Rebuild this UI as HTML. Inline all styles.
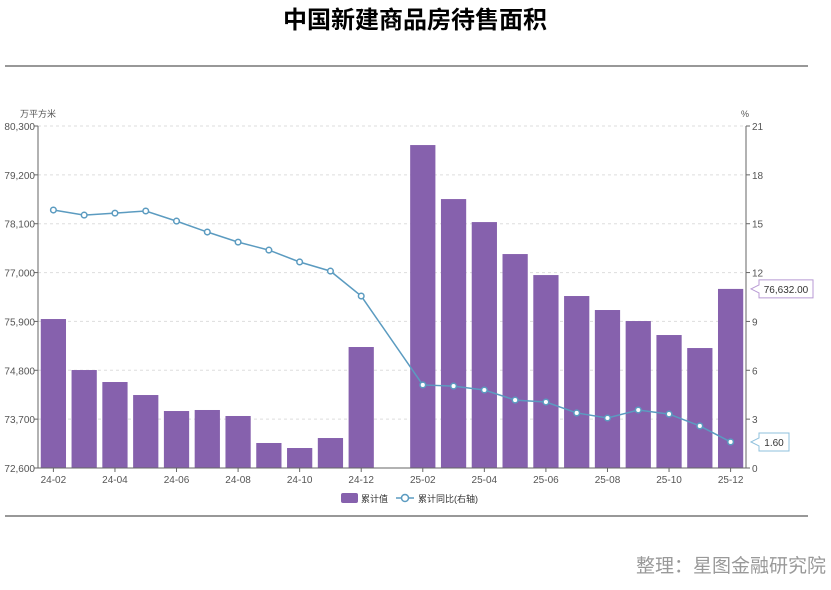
<!DOCTYPE html>
<html><head><meta charset="utf-8"><style>
body{margin:0;width:831px;height:585px;background:#fff;overflow:hidden;font-family:"Liberation Sans","Noto Sans CJK SC",sans-serif;}
</style></head><body>
<svg id="c" width="831" height="585" xmlns="http://www.w3.org/2000/svg">
<text x="415" y="28" text-anchor="middle" font-size="24" font-weight="bold" fill="#000" font-family="Liberation Sans,Noto Sans CJK SC,sans-serif">中国新建商品房待售面积</text>
<line x1="5" y1="66" x2="808" y2="66" stroke="#777" stroke-width="1.5"/>
<line x1="5" y1="516" x2="808" y2="516" stroke="#777" stroke-width="1.5"/>
<text x="826" y="572" text-anchor="end" font-size="19" fill="#999" font-family="Liberation Sans,Noto Sans CJK SC,sans-serif">整理：星图金融研究院</text>
<text x="38" y="117" text-anchor="middle" font-size="9" fill="#555" font-family="Liberation Sans,Noto Sans CJK SC,sans-serif">万平方米</text>
<text x="745" y="117" text-anchor="middle" font-size="9" fill="#555">%</text>
<g id="grid"></g><g id="bars"></g><g id="line"></g><g id="axes"></g>
<g>
<rect x="341" y="493" width="17" height="10" rx="2" fill="#8661ad"/>
<text x="361" y="502" font-size="9" fill="#333" font-family="Liberation Sans,Noto Sans CJK SC,sans-serif">累计值</text>
<line x1="396" y1="498" x2="414" y2="498" stroke="#5b9bc0" stroke-width="1.5"/>
<circle cx="405" cy="498" r="3.5" fill="#fff" stroke="#5b9bc0" stroke-width="1.5"/>
<text x="418" y="502" font-size="9" fill="#333" font-family="Liberation Sans,Noto Sans CJK SC,sans-serif">累计同比(右轴)</text>
</g>
</svg>
<script>
const categories=["24-02","24-03","24-04","24-05","24-06","24-07","24-08","24-09","24-10","24-11","24-12","25-01","25-02","25-03","25-04","25-05","25-06","25-07","25-08","25-09","25-10","25-11","25-12"];
const areaValues=[75954,74806,74536,74243,73883,73906,73771,73163,73050,73275,75324,null,79871,78655,78137,77417,76944,76472,76157,75909,75594,75301,76632];
const yoyValues=[15.84,15.53,15.65,15.78,15.16,14.49,13.87,13.38,12.65,12.09,10.56,null,5.10,5.03,4.79,4.17,4.05,3.38,3.07,3.56,3.31,2.58,1.60];
const leftTicks=[72600,73700,74800,75900,77000,78100,79200,80300];
const rightTicks=[0,3,6,9,12,15,18,21];
const NS="http://www.w3.org/2000/svg";
const X0=38,X1=746,Y0=468,Y1=126;
const slot=(X1-X0)/categories.length;
const xc=i=>X0+slot*(i+0.5);
const yL=v=>Y0-(v-72600)/(80300-72600)*(Y0-Y1);
const yR=v=>Y0-v/21*(Y0-Y1);
function mk(tag,attrs,parent){const e=document.createElementNS(NS,tag);for(const k in attrs)e.setAttribute(k,attrs[k]);document.getElementById(parent).appendChild(e);return e;}
leftTicks.forEach((t,i)=>{
 if(i>0){const g=mk('line',{x1:X0,x2:X1,y1:yL(t),y2:yL(t),stroke:'#ddd','stroke-dasharray':'3,3'},'grid');
 
 }
 const tk=mk('line',{x1:X0-4,x2:X0,y1:yL(t),y2:yL(t),stroke:'#666'},'axes');
 
 
 const tx=mk('text',{x:X0-3,y:yL(t)+4,'text-anchor':'end','font-size':10,fill:'#555'},'axes');
 tx.textContent=t.toLocaleString('en-US');
 
 
});
rightTicks.forEach(t=>{
 const tk=mk('line',{x1:X1,x2:X1+4,y1:yR(t),y2:yR(t),stroke:'#666'},'axes');
 
 
 const tx=mk('text',{x:X1+6,y:yR(t)+4,'font-size':10,fill:'#555'},'axes');
 tx.textContent=t;
 
 
});
[['left-axis',X0],['right-axis',X1]].forEach(([n,x])=>{
 const a=mk('line',{x1:x,x2:x,y1:Y1,y2:Y0,stroke:'#666'},'axes');
 
 
});
const xa=mk('line',{x1:X0,x2:X1,y1:Y0,y2:Y0,stroke:'#666'},'axes');


categories.forEach((c,i)=>{
 if(i%2===0){
  const tk=mk('line',{x1:xc(i),x2:xc(i),y1:Y0,y2:Y0+4,stroke:'#666'},'axes');
  
  
  const tx=mk('text',{x:xc(i),y:Y0+15,'text-anchor':'middle','font-size':10,fill:'#555'},'axes');
  tx.textContent=c;
  
  
 }
 const v=areaValues[i];
 if(v!=null){
  const b=mk('rect',{x:xc(i)-slot*0.41,y:yL(v),width:slot*0.82,height:Y0-yL(v),fill:'#8661ad'},'bars');
  
  
 }
});
let pts=[];yoyValues.forEach((v,i)=>{if(v!=null)pts.push([xc(i),yR(v)]);});
const pl=mk('polyline',{points:pts.map(p=>p.join(',')).join(' '),fill:'none',stroke:'#5b9bc0','stroke-width':1.5},'line');


pts.forEach(p=>{
 const c=mk('circle',{cx:p[0],cy:p[1],r:2.8,fill:'#fff',stroke:'#5b9bc0','stroke-width':1.5},'line');
 
 
});
function tag(y,txt,col,w,name){
 const x=X1+5;
 const p=mk('path',{d:`M${x},${y} L${x+8},${y-4} L${x+8},${y-9} L${x+8+w},${y-9} L${x+8+w},${y+9} L${x+8},${y+9} L${x+8},${y+4} Z`,fill:'#fff',stroke:col},'axes');
 
 
 const t=mk('text',{x:x+8+w/2,y:y+4,'text-anchor':'middle','font-size':10,fill:'#333'},'axes');
 t.textContent=txt;
 
 
}
const lastA=areaValues[areaValues.length-1],lastY=yoyValues[yoyValues.length-1];
tag(yL(lastA),lastA.toLocaleString('en-US',{minimumFractionDigits:2}),'#b89ad4',54,'last-area-label');
tag(yR(lastY),lastY.toFixed(2),'#8fc0dc',30,'last-yoy-label');
</script>
</body></html>
